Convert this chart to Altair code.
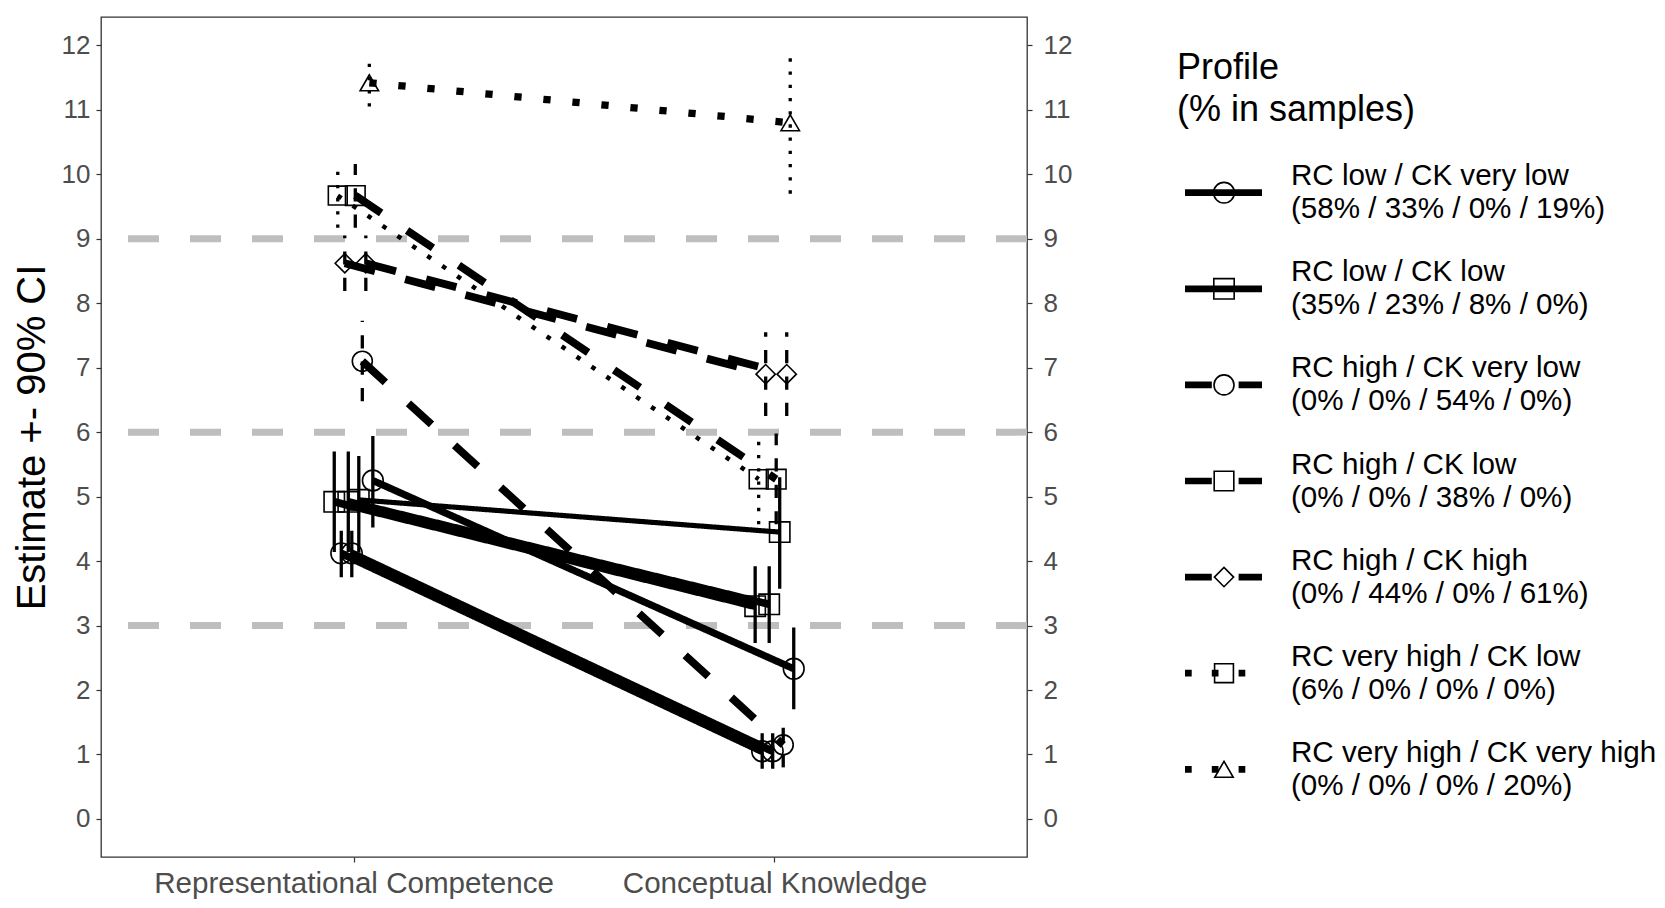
import re
import json
import altair as alt
import pandas as pd

# ---------------- data ----------------
categories = ["Representational Competence", "Conceptual Knowledge"]

profiles = [
    "RC low / CK very low",
    "RC low / CK low",
    "RC high / CK very low",
    "RC high / CK low",
    "RC high / CK high",
    "RC very high / CK low",
    "RC very high / CK very high",
]
sample_shares = [
    "(58% / 33% / 0% / 19%)",
    "(35% / 23% / 8% / 0%)",
    "(0% / 0% / 54% / 0%)",
    "(0% / 0% / 38% / 0%)",
    "(0% / 44% / 0% / 61%)",
    "(6% / 0% / 0% / 0%)",
    "(0% / 0% / 0% / 20%)",
]
profile_linetype = ["solid", "solid", "dashed", "dashed", "dashed", "dotted", "dotted"]
profile_shape = ["circle", "square", "circle", "square", "diamond", "square", "triangle-up"]

# one entry per (profile, sample) line, in dodge order
line_profile = [1, 5, 0, 4, 1, 0, 3, 1, 2, 4, 6, 0]
line_sample = [1, 1, 1, 2, 2, 2, 3, 3, 3, 4, 4, 4]

rc_est = [4.92, 9.67, 4.12, 8.62, 4.92, 4.12, 9.67, 4.95, 7.10, 8.62, 11.42, 5.25]
rc_lo = [4.14, 9.17, 3.75, 8.19, 4.14, 3.75, 9.17, 4.13, 6.48, 8.19, 11.05, 4.52]
rc_hi = [5.70, 10.16, 4.47, 9.05, 5.70, 4.47, 10.16, 5.63, 7.73, 9.05, 11.80, 5.94]

ck_est = [3.30, 5.27, 1.05, 6.90, 3.33, 1.05, 5.27, 4.45, 1.15, 6.90, 10.80, 2.33]
ck_lo = [2.73, 4.57, 0.78, 6.25, 2.73, 0.78, 4.57, 3.57, 0.80, 6.25, 9.70, 1.70]
ck_hi = [3.92, 5.98, 1.33, 7.55, 3.92, 1.33, 5.98, 5.30, 1.52, 7.55, 11.88, 2.97]

grid_values = [3, 6, 9]
y_ticks = list(range(13))
legend_title = ["Profile", "(% in samples)"]

# ---------------- tables ----------------
rows = []
for i, p in enumerate(line_profile):
    pct = int(re.findall(r"(\d+)%", sample_shares[p])[line_sample[i] - 1])
    for m, (e, lo, hi) in enumerate([(rc_est[i], rc_lo[i], rc_hi[i]),
                                     (ck_est[i], ck_lo[i], ck_hi[i])]):
        rows.append(dict(line=i, profile=profiles[p], lt=profile_linetype[p],
                         sample=line_sample[i], pct=pct, measure=categories[m],
                         est=e, lo=lo, hi=hi))
df = pd.DataFrame(rows)

leg_df = pd.DataFrame({
    "profile": profiles,
    "lt": profile_linetype,
    "li": list(range(len(profiles))),
    "label": [f"{p}\n{s}" for p, s in zip(profiles, sample_shares)],
})
grid_df = pd.DataFrame({"val": grid_values})

# ---------------- styling ----------------
FONT = "Liberation Sans"
W, H = 926, 840
n_lines = len(line_profile)
dodge = 0.1

shape_scale = alt.Scale(domain=profiles, range=profile_shape)
size_scale = alt.Scale(domain=profiles, range=[430, 340, 430, 340, 560, 340, 500])
y_scale = alt.Scale(domain=[-0.59, 12.44], nice=False, zero=False)
x_scale = alt.Scale(domain=[0.4, 2.6], nice=False, zero=False)

label_expr = f"{json.dumps(categories)}[datum.value - 1]"
x_axis = alt.Axis(values=[1, 2], labelExpr=label_expr, title=None, grid=False,
                  domain=False, tickSize=5, tickColor="#333333", tickWidth=1.2,
                  labelFontSize=29.6, labelColor="#4D4D4D", labelPadding=7,
                  labelLimit=0)

common_y = dict(values=y_ticks, grid=False, domain=False, tickSize=5,
                tickColor="#333333", tickWidth=1.2, labelFontSize=26,
                labelColor="#4D4D4D")
left_axis = alt.Axis(orient="left", title="Estimate +- 90% CI", titleFontSize=40,
                     titleFontWeight="normal", titleColor="black", titlePadding=9,
                     labelPadding=6, **common_y)
right_axis = alt.Axis(orient="right", title=None, labelPadding=11, **common_y)

def dash_expr(w):
    return (f"datum.lt == 'dashed' ? [{4*w}, {4*w}] : "
            f"(datum.lt == 'dotted' ? [{w}, {3*w}] : [1, 0])")

base = alt.Chart(df).transform_calculate(
    xpos=f"indexof({json.dumps(categories)}, datum.measure) + 1 + "
         f"(datum.line - {(n_lines - 1) / 2}) * {dodge} / {n_lines}",
    w="clamp(4.5 + 3.3 * log(datum.pct / 6) / log(25 / 6), 4.5, 7.8)",
).transform_calculate(
    dash="datum.lt == 'dashed' ? [4*datum.w, 4*datum.w] : "
         "(datum.lt == 'dotted' ? [datum.w, 3*datum.w] : [1, 0])",
    ebdash=dash_expr(3.3),
)

X = alt.X("xpos:Q", scale=x_scale, axis=x_axis)

errbars = base.mark_rule(color="black", strokeWidth=3.3).encode(
    x=X,
    y=alt.Y("lo:Q", scale=y_scale, axis=left_axis),
    y2="hi:Q",
    strokeDash=alt.StrokeDash("ebdash:N", scale=None),
    detail="line:N",
)

lines = base.mark_line(color="black").encode(
    x=X,
    y=alt.Y("est:Q", scale=y_scale, axis=left_axis),
    detail="line:N",
    strokeWidth=alt.StrokeWidth("w:Q", scale=None),
    strokeDash=alt.StrokeDash("dash:N", scale=None),
)

points = base.mark_point(filled=False, color="black", strokeWidth=1.6, opacity=1).encode(
    x=X,
    y=alt.Y("est:Q", scale=y_scale, axis=left_axis),
    shape=alt.Shape("profile:N", scale=shape_scale, legend=None),
    size=alt.Size("profile:N", scale=size_scale, legend=None),
    detail="line:N",
)

grid = alt.Chart(grid_df).mark_rule(color="#BEBEBE", strokeWidth=7,
                                    strokeDash=[31, 31]).encode(
    y=alt.Y("val:Q", scale=y_scale, axis=right_axis)
)

main = alt.layer(grid, alt.layer(errbars, lines, points)).resolve_scale(
    y="independent"
).properties(width=W, height=H)

# ---------------- legend ----------------
step = 96.1
first = 175.7
leg_y_scale = alt.Scale(domain=[(H - first) / step, -first / step], nice=False, zero=False)
LY = alt.Y("li:Q", scale=leg_y_scale, axis=None)

leg_base = alt.Chart(leg_df).transform_calculate(kdash=dash_expr(6.7))

key_lines = leg_base.mark_rule(color="black", strokeWidth=6.7).encode(
    x=alt.value(8), x2=alt.value(85), y=LY,
    strokeDash=alt.StrokeDash("kdash:N", scale=None),
)
key_points = leg_base.mark_point(filled=False, color="black", strokeWidth=1.6,
                                 opacity=1).encode(
    x=alt.value(47), y=LY,
    shape=alt.Shape("profile:N", scale=shape_scale, legend=None),
    size=alt.Size("profile:N", scale=size_scale, legend=None),
)
key_text = leg_base.mark_text(align="left", baseline="middle", lineBreak="\n",
                              lineHeight=33, fontSize=29.6, font=FONT,
                              color="black", dy=-16.5).encode(
    x=alt.value(114), y=LY, text="label:N",
)
title1 = alt.Chart(pd.DataFrame({"t": [legend_title[0]]})).mark_text(
    align="left", baseline="alphabetic", fontSize=36, font=FONT, color="black"
).encode(x=alt.value(0), y=alt.value(62), text="t:N")
title2 = alt.Chart(pd.DataFrame({"t": [legend_title[1]]})).mark_text(
    align="left", baseline="alphabetic", fontSize=36, font=FONT, color="black"
).encode(x=alt.value(0), y=alt.value(104), text="t:N")

legend = alt.layer(key_lines, key_points, key_text, title1, title2).properties(
    width=470, height=H, view=alt.ViewBackground(stroke="transparent")
)

chart = alt.hconcat(main, legend, spacing=103).properties(
    padding={"left": 3, "top": 8, "right": 0, "bottom": 0}
).configure(font=FONT).configure_axis(
    labelFont=FONT, titleFont=FONT
).configure_view(stroke="#333333", strokeWidth=1.3)

chart.save("out.html", embed_options={"renderer": "svg", "actions": False})
